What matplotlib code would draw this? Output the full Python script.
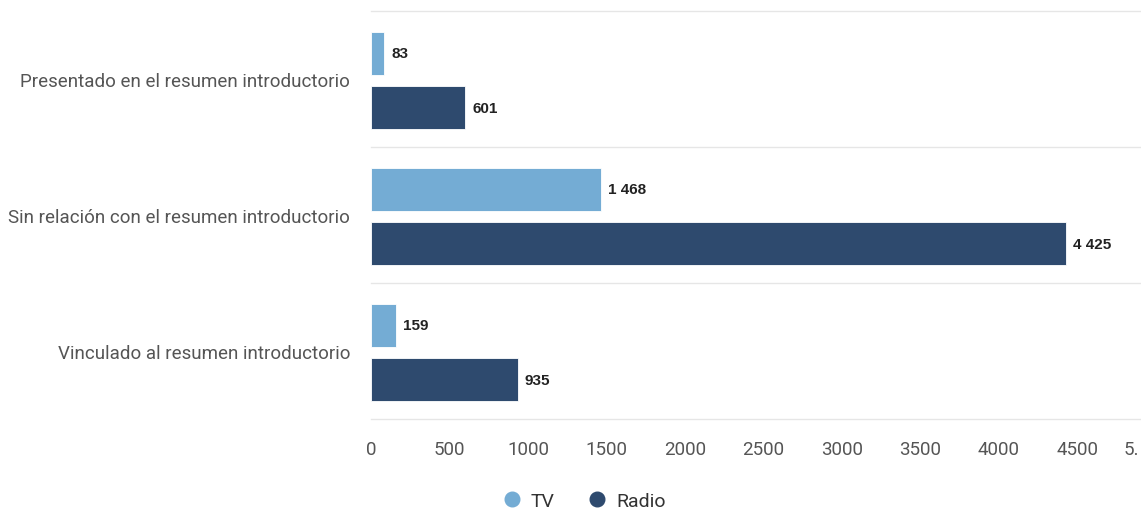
import matplotlib
matplotlib.use("Agg")
import matplotlib.pyplot as plt
from matplotlib.lines import Line2D
from matplotlib.transforms import ScaledTranslation
import numpy as np

categories = ["Presentado en el resumen introductorio",
              "Sin relación con el resumen introductorio",
              "Vinculado al resumen introductorio"]
series_names = ["TV", "Radio"]
tv_values = [83, 1468, 159]
radio_values = [601, 4425, 935]
x_ticks = [0, 500, 1000, 1500, 2000, 2500, 3000, 3500, 4000, 4500, 5000]
x_tick_labels = ["0", "500", "1000", "1500", "2000", "2500", "3000", "3500", "4000", "4500", "5."]
colors = ["#74acd4", "#2e4a6e"]

def fmt(v):
    return f"{v:,}".replace(",", " ")

W, H = 1141, 510
fig = plt.figure(figsize=(W / 100, H / 100), dpi=100)
x0, x1 = 371, 1156
y_top, y_bot = 12, 420
ax = fig.add_axes([x0 / W, (H - y_bot) / H, (x1 - x0) / W, (y_bot - y_top) / H])
ax.set_xlim(0, 5000)
ax.set_ylim(2.5, -0.5)

y = np.arange(len(categories))
bh = 0.316
offsets = [-0.19, 0.213]
for vals, o, c in [(tv_values, offsets[0], colors[0]), (radio_values, offsets[1], colors[1])]:
    ax.barh(y + o, vals, height=bh, color=c, edgecolor="white", linewidth=0.6, zorder=3)
    for yi, v in zip(y, vals):
        t = ax.text(v, yi + o, fmt(v), va="center", ha="left", fontsize=11,
                    fontweight="bold", color="#222222", family="Liberation Sans", zorder=4)
        t.set_transform(ax.transData + ScaledTranslation(7 / 100, 0, fig.dpi_scale_trans))

for b in [-0.5, 0.5, 1.5, 2.5]:
    ax.axhline(b, color="#e6e6e6", linewidth=1, zorder=1, clip_on=False)

for s in ax.spines.values():
    s.set_visible(False)
ax.set_yticks(y)
ax.set_yticklabels(categories, fontsize=13.5, color="#555555", family="Roboto")
ax.tick_params(axis="y", length=0, pad=15)
ax.set_xticks(x_ticks)
ax.set_xticklabels(x_tick_labels, fontsize=13.5, color="#555555", family="Roboto")
ax.tick_params(axis="x", length=0, pad=15)
lbls = ax.get_xticklabels()
lbls[-1].set_horizontalalignment("left")
lbls[-1].set_transform(lbls[-1].get_transform() + ScaledTranslation(-32 / 100, 0, fig.dpi_scale_trans))

handles = [Line2D([], [], marker="o", linestyle="none", markersize=10.5,
                  markerfacecolor=c, markeredgecolor=c) for c in colors]
fig.legend(handles, series_names, loc="center", bbox_to_anchor=(584 / W, (H - 502) / H),
           ncol=2, frameon=False, handletextpad=0.45, columnspacing=1.7, handlelength=1.0,
           prop={"family": "Roboto", "size": 14}, labelcolor="#333333")

fig.savefig("out.png", dpi=100)
